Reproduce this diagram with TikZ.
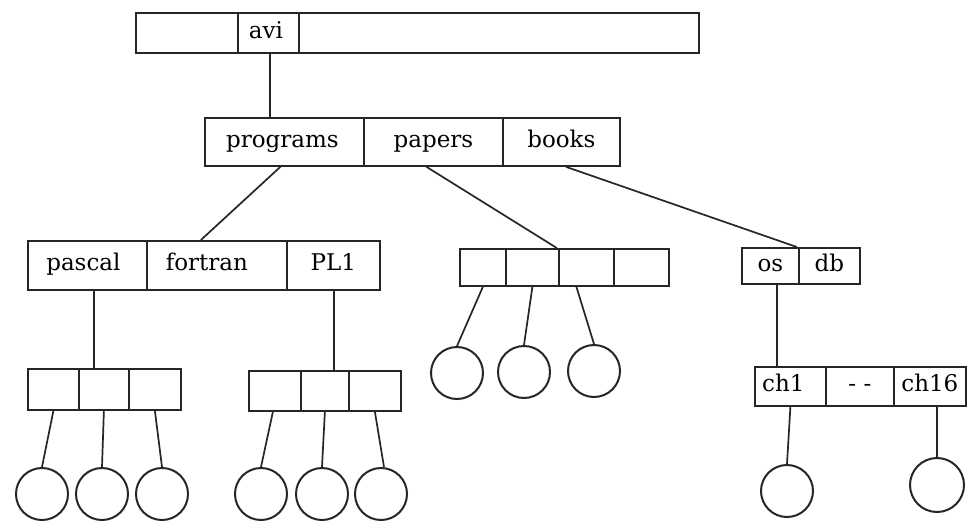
\documentclass[tikz,border=0pt]{standalone}
\usepackage{fontspec}
\setmainfont{DejaVu Serif}
\begin{document}
\begin{tikzpicture}[x=1pt,y=-1pt,
  cell/.style={draw=black!85, line width=1.8pt, inner sep=0pt, anchor=north west,
    font=\fontsize{23}{26}\selectfont, text height=16pt, text depth=5pt},
  leaf/.style={circle, draw=black!85, line width=2pt, minimum size=52pt, inner sep=0pt},
  link/.style={draw=black!85, line width=1.7pt}]
\useasboundingbox[fill=white] (0,0) rectangle (970,520);

% top directory
\node[cell, minimum width=102pt, minimum height=40pt] (t1) at (135,12) {};
\node[cell, minimum width=61pt,  minimum height=40pt] (avi) at (237,12) {avi\kern5pt};
\node[cell, minimum width=400pt, minimum height=40pt] (t3) at (298,12) {};

% second level
\node[cell, minimum width=159pt, minimum height=48pt] (prog) at (204,117) {programs\kern4pt};
\node[cell, minimum width=139pt, minimum height=48pt] (pap) at (363,117) {papers};
\node[cell, minimum width=117pt, minimum height=48pt] (books) at (502,117) {books};

% programs directory
\node[cell, minimum width=119pt, minimum height=49pt] (pascal) at (27,240) {pascal\kern8pt};
\node[cell, minimum width=140pt, minimum height=49pt] (fortran) at (146,240) {fortran\kern20pt};
\node[cell, minimum width=93pt,  minimum height=49pt] (pl1) at (286,240) {PL1};

% papers directory
\node[cell, minimum width=46pt, minimum height=37pt] (q1) at (459,248) {};
\node[cell, minimum width=53pt, minimum height=37pt] (q2) at (505,248) {};
\node[cell, minimum width=55pt, minimum height=37pt] (q3) at (558,248) {};
\node[cell, minimum width=55pt, minimum height=37pt] (q4) at (613,248) {};

% books directory
\node[cell, minimum width=57pt, minimum height=36pt] (os) at (741,247) {os};
\node[cell, minimum width=61pt, minimum height=36pt] (db) at (798,247) {db};

% pascal directory
\node[cell, minimum width=51pt, minimum height=41pt] (a1) at (27,368) {};
\node[cell, minimum width=50pt, minimum height=41pt] (a2) at (78,368) {};
\node[cell, minimum width=52pt, minimum height=41pt] (a3) at (128,368) {};

% PL1 directory
\node[cell, minimum width=52pt, minimum height=40pt] (b1) at (248,370) {};
\node[cell, minimum width=48pt, minimum height=40pt] (b2) at (300,370) {};
\node[cell, minimum width=52pt, minimum height=40pt] (b3) at (348,370) {};

% os directory
\node[cell, minimum width=71pt, minimum height=39pt] (ch1) at (754,366) {ch1\kern14pt};
\node[cell, minimum width=68pt, minimum height=39pt] (chd) at (825,366) {- -};
\node[cell, minimum width=72pt, minimum height=39pt] (ch16) at (893,366) {ch16};

% files
\node[leaf] (fa1) at (42,494) {};
\node[leaf] (fa2) at (102,494) {};
\node[leaf] (fa3) at (162,494) {};
\node[leaf] (fb1) at (261,494) {};
\node[leaf] (fb2) at (322,494) {};
\node[leaf] (fb3) at (381,494) {};
\node[leaf] (fq1) at (457,373) {};
\node[leaf] (fq2) at (524,372) {};
\node[leaf] (fq3) at (594,371) {};
\node[leaf] (fc1) at (787,491) {};
\node[leaf, minimum size=54pt] (fc16) at (937,485) {};

% connectors
\draw[link] ([xshift=1.5pt]avi.south) -- ([xshift=1.5pt]avi.south |- prog.north);
\draw[link] ([xshift=-4pt]prog.south) -- ([xshift=-16pt]fortran.north);
\draw[link] ([xshift=-7pt]pap.south) -- ([xshift=-3pt]q2.north east);
\draw[link] ([xshift=4.5pt]books.south) -- ([xshift=-3pt]os.north east);

\draw[link] ([xshift=6.5pt]pascal.south) -- ([xshift=6.5pt]pascal.south |- a2.north);
\draw[link] ([xshift=0.5pt]pl1.south) -- ([xshift=0.5pt]pl1.south |- b2.north);
\draw[link] ([xshift=6.5pt]os.south) -- ([xshift=6.5pt]os.south |- ch1.north);

\draw[link] (a1.south) -- (fa1.north);
\draw[link] (a2.south) -- (fa2.north);
\draw[link] (a3.south) -- (fa3.north);
\draw[link] ([xshift=-2pt]b1.south) -- (fb1.north);
\draw[link] (b2.south) -- (fb2.north);
\draw[link] (b3.south) -- ([xshift=3pt]fb3.north);
\draw[link] (q1.south) -- (fq1.north);
\draw[link] (q2.south) -- (fq2.north);
\draw[link] ([xshift=-10pt]q3.south) -- (fq3.north);
\draw[link] (ch1.south) -- (fc1.north);
\draw[link] (fc16.north |- ch16.south) -- (fc16.north);
\end{tikzpicture}
\end{document}
